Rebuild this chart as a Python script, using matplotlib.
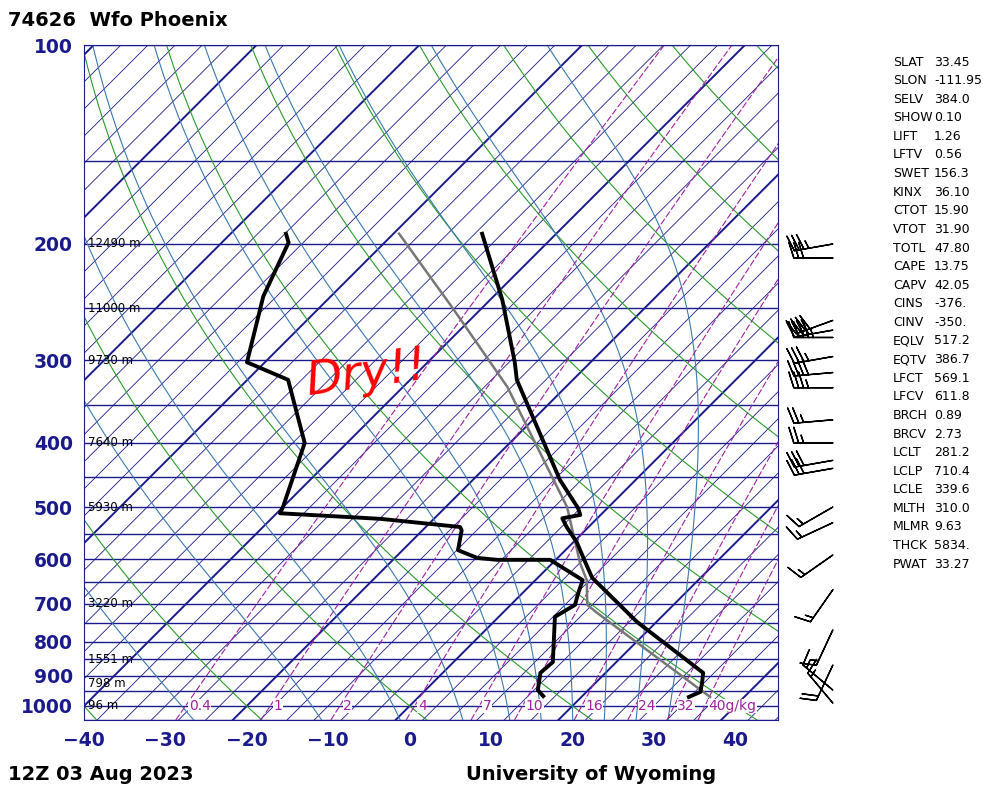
import numpy as np
import matplotlib
matplotlib.use('Agg')
import matplotlib.pyplot as plt

# ------------------------------
# Sounding data
# ------------------------------
temp_p = [969, 952, 920, 891, 746, 640, 601, 565, 536, 520, 514, 502, 455, 321, 302, 243, 193]
temp_t = [33.2, 34.0, 33.0, 32.0, 17.6, 6.7, 3.5, 0.4, -2.7, -4.3, -2.5, -3.6, -9.3, -26.9, -29.3, -38.5, -49.1]

dwpt_p = [966, 946, 891, 858, 733, 703, 679, 645, 601, 601, 597, 581, 542, 536, 521, 511, 500, 400, 321, 302, 240, 199, 193]
dwpt_t = [15.2, 13.8, 12.0, 12.2, 6.9, 7.9, 7.0, 5.8, -0.7, -7.2, -9.9, -13.2, -15.2, -15.8, -26.6, -39.6, -40.0, -45.2, -55.0, -62.2, -68.3, -71.8, -73.2]

parcel_p = [969, 723, 703, 645, 608, 500, 329, 250, 193]
parcel_t = [35.8, 11.6, 9.4, 6.3, 3.4, -5.1, -27.2, -43.6, -59.3]

wind_p = [200, 210, 261, 270, 277, 296, 313, 330, 369, 400, 425, 437, 500, 528, 591, 667, 767, 867, 946, 990]
wind_spd = [35, 30, 40, 40, 45, 35, 40, 35, 25, 25, 30, 30, 15, 15, 15, 15, 15, 20, 15, 15]
wind_ang = [10, 0, 20, 10, 0, 10, 5, 0, 5, 0, 10, 10, 30, 25, 35, 55, 65, 65, -40, -50]  # staff angle below horizontal

height_p = [200, 250, 300, 400, 500, 700, 850, 925, 1000]
height_lbl = ['12490 m', '11000 m', '9730 m', '7640 m', '5930 m', '3220 m', '1551 m', '798 m', '96 m']

mixr_vals = [0.4, 1, 2, 4, 7, 10, 16, 24, 32, 40]
mixr_lbls = ['0.4', '1', '2', '4', '7', '10', '16', '24', '32', '40g/kg']

stat_names = ['SLAT', 'SLON', 'SELV', 'SHOW', 'LIFT', 'LFTV', 'SWET', 'KINX', 'CTOT', 'VTOT', 'TOTL',
              'CAPE', 'CAPV', 'CINS', 'CINV', 'EQLV', 'EQTV', 'LFCT', 'LFCV', 'BRCH', 'BRCV', 'LCLT',
              'LCLP', 'LCLE', 'MLTH', 'MLMR', 'THCK', 'PWAT']
stat_vals = ['33.45', '-111.95', '384.0', '0.10', '1.26', '0.56', '156.3', '36.10', '15.90', '31.90', '47.80',
             '13.75', '42.05', '-376.', '-350.', '517.2', '386.7', '569.1', '611.8', '0.89', '2.73', '281.2',
             '710.4', '339.6', '310.0', '9.63', '5834.', '33.27']

SKEW = 81.2
def sk(t, p):
    return np.asarray(t) + SKEW * np.log10(1000.0 / np.asarray(p))

navy = '#1a1a8c'
fig = plt.figure(figsize=(10.06, 7.91), dpi=100)
ax = fig.add_axes([84/1006, 71/791, 694/1006, 675/791])
ax.set_yscale('log')
ax.set_xlim(-40, 45.26)
ax.set_ylim(1050, 100)

pp = np.logspace(np.log10(1050), 2, 200)

# isobars
for p in range(100, 1051, 50):
    ax.axhline(p, color=navy, lw=1.0, zorder=1)

# isotherms
for t in np.arange(-160, 60, 10/3.):
    thick = abs(round(t) - t) < 0.01 and int(round(t)) % 20 == 0
    ax.plot(sk(np.full_like(pp, t), pp), pp, color=navy, lw=1.4 if thick else 0.6, zorder=1)

# dry adiabats
for th in np.arange(-40, 240, 20):
    tt = (th + 273.15) * (pp / 1000.0) ** 0.286 - 273.15
    ax.plot(sk(tt, pp), pp, color='#2a9a2a', lw=0.8, zorder=1)

# moist adiabats
def dtdp(T, p):
    es = 6.112 * np.exp(17.67 * (T - 273.15) / (T - 29.65))
    rs = 0.622 * es / (p - es)
    return (287.0 * T + 2.5e6 * rs) / (p * (1004.0 + 2.5e6**2 * rs * 0.622 / (287.0 * T**2)))

def moist(t0):
    T = t0 + 273.15
    p = 1000.0
    dp = 2.0
    while p < 1050:
        T += dtdp(T, p) * dp
        p += dp
    pts_p, pts_t = [p], [T]
    while p > 100:
        T -= dtdp(T, p) * dp
        p -= dp
        pts_p.append(p)
        pts_t.append(T)
    return np.array(pts_p), np.array(pts_t) - 273.15

for t0 in [-28, -12, -2, 6, 12, 16, 20, 24, 28, 32]:
    mp, mt = moist(t0)
    ax.plot(sk(mt, mp), mp, color='#3a78b0', lw=0.8, zorder=1)

# mixing ratio lines
def mixr_t(w, p):
    w = w / 1000.0
    es = w * p / (0.622 + w)
    a = np.log(es / 6.112)
    return 243.5 * a / (17.67 - a)

for w, lbl in zip(mixr_vals, mixr_lbls):
    tt = mixr_t(w, pp)
    ax.plot(sk(tt, pp), pp, color='#a020a0', lw=0.8, ls=(0, (6, 2)), zorder=1)
    ax.text(sk(mixr_t(w, 1000), 1000) + 0.4, 1000, lbl, color='#a020a0', fontsize=10,
            ha='left', va='center', zorder=3,
            bbox=dict(facecolor='white', edgecolor='none', pad=0.3))

# profiles
ax.plot(sk(parcel_t, parcel_p), parcel_p, color='#777777', lw=1.8, zorder=4)
ax.plot(sk(temp_t, temp_p), temp_p, color='black', lw=2.8, zorder=5)
ax.plot(sk(dwpt_t, dwpt_p), dwpt_p, color='black', lw=2.8, zorder=5)

# height labels
for p, lbl in zip(height_p, height_lbl):
    ax.text(-39.5, p, lbl, fontsize=8.5, ha='left', va='center', zorder=3)

# handwritten note
ax.text(-13, 315, 'Dry!!', color='red', fontsize=34, fontstyle='italic', rotation=8,
        ha='left', va='center', zorder=6, fontweight='light')

# wind barbs
wa = np.radians(wind_ang)
u = np.array(wind_spd) * np.cos(wa)
v = np.array(wind_spd) * np.sin(wa)
ax.barbs(np.full(len(wind_p), 52.0), wind_p, u, v, length=7.5, lw=1.0, clip_on=False, zorder=5)

# axes
ax.set_xticks(range(-40, 41, 10))
ax.set_yticks(range(100, 1001, 100))
ax.set_yticklabels([str(p) for p in range(100, 1001, 100)])
ax.yaxis.set_minor_locator(matplotlib.ticker.NullLocator())
ax.tick_params(length=0, labelsize=13.5, labelcolor=navy, pad=8)
for lab in ax.get_xticklabels() + ax.get_yticklabels():
    lab.set_fontweight('bold')
for s in ax.spines.values():
    s.set_color(navy)

fig.text(8/1006, 1 - 20/791, '74626  Wfo Phoenix', fontsize=14, fontweight='bold', va='center')
fig.text(8/1006, 1 - 774/791, '12Z 03 Aug 2023', fontsize=14, fontweight='bold', va='center')
fig.text(466/1006, 1 - 774/791, 'University of Wyoming', fontsize=14, fontweight='bold', va='center')

for i, (n, val) in enumerate(zip(stat_names, stat_vals)):
    y = 1 - (62 + i * 18.6) / 791
    fig.text(893/1006, y, n, fontsize=9, va='center')
    fig.text(934/1006, y, val, fontsize=9, va='center')

fig.savefig('out.png', dpi=100)
